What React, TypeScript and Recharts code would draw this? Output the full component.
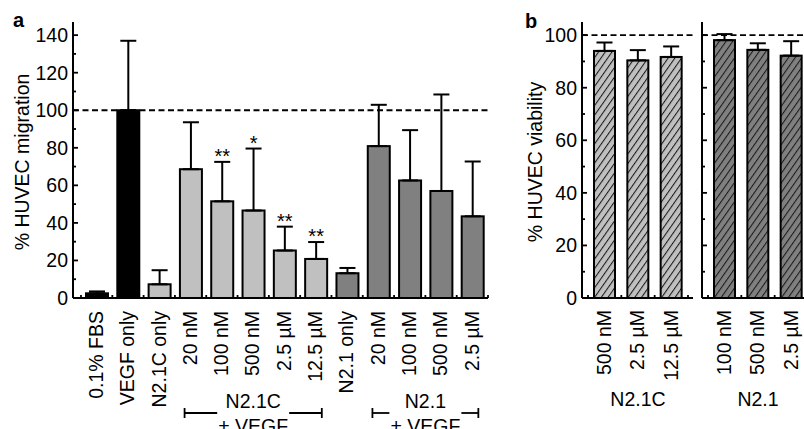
import React from 'react';
import { BarChart, Bar, XAxis, YAxis, ErrorBar, ReferenceLine } from 'recharts';

// panel a: HUVEC migration
const migrationKeys = ['fbs', 'vegf', 'cOnly', 'c20', 'c100', 'c500', 'c2500', 'c12500', 'nOnly', 'n20', 'n100', 'n500', 'n2500'];
const migrationLabels = ['0.1% FBS', 'VEGF only', 'N2.1C only', '20 nM', '100 nM', '500 nM', '2.5 µM', '12.5 µM', 'N2.1 only', '20 nM', '100 nM', '500 nM', '2.5 µM'];
const migrationValues = [2.5, 100, 7.3, 68.6, 51.5, 46.6, 25.3, 20.8, 13.2, 80.9, 62.6, 57, 43.5];
const migrationErrors = [1, 37, 7.5, 25, 21, 33, 12.7, 9, 2.8, 22, 26.8, 51.4, 29.2];
const migrationStars = ['', '', '', '', '**', '*', '**', '**', '', '', '', '', ''];
const migrationGroups = ['ctrl', 'ctrl', 'c', 'c', 'c', 'c', 'c', 'c', 'n', 'n', 'n', 'n', 'n'];
const migrationTicks = [0, 10, 20, 30, 40, 50, 60, 70, 80, 90, 100, 110, 120, 130, 140];
const brackets = [
  { from: 3, to: 7, title: 'N2.1C', sub: '+ VEGF' },
  { from: 9, to: 12, title: 'N2.1', sub: '+ VEGF' },
];

// panel b: HUVEC viability
const viabilityCLabels = ['500 nM', '2.5 µM', '12.5 µM'];
const viabilityCValues = [94, 90.4, 91.7];
const viabilityCErrors = [3.2, 3.9, 4];
const viabilityNLabels = ['100 nM', '500 nM', '2.5 µM'];
const viabilityNValues = [98.1, 94.4, 92.2];
const viabilityNErrors = [2.3, 2.5, 5.5];
const viabilityTicks = [0, 10, 20, 30, 40, 50, 60, 70, 80, 90, 100];

const FONT = '"Liberation Sans", Arial, sans-serif';
const FILLS: Record<string, string> = { ctrl: '#000000', c: '#c0c0c0', n: '#808080' };

const migrationData = migrationKeys.map((key, i) => ({
  key,
  label: migrationLabels[i],
  value: migrationValues[i],
  err: [0, migrationErrors[i]],
  errValue: migrationErrors[i],
  stars: migrationStars[i],
  group: migrationGroups[i],
}));

const makeViability = (labels: string[], values: number[], errors: number[]) =>
  labels.map((label, i) => ({ key: `${label}-${i}`, label, value: values[i], err: [0, errors[i]], errValue: errors[i] }));

const viabilityCData = makeViability(viabilityCLabels, viabilityCValues, viabilityCErrors);
const viabilityNData = makeViability(viabilityNLabels, viabilityNValues, viabilityNErrors);

// layout of panel a
const A_WIDTH = 500;
const A_LEFT = 73;
const A_RIGHT = 12;
const A_PAD = 8;
const A_BAND = (A_WIDTH - A_LEFT - A_RIGHT - A_PAD) / migrationData.length;

// layout of panel b
const B_WIDTH = 200;
const B_LEFT = 82;
const B_RIGHT = 7;
const B_PAD_L = 6;
const B_PAD_R = 5;
const B_BAND = (B_WIDTH - B_LEFT - B_RIGHT - B_PAD_L - B_PAD_R) / 3;

const LINE = 1.8;

const YTick = ({ x, y, payload, showLabel, step }: any) => {
  const major = payload.value % step === 0;
  return (
    <g>
      <line x1={x} x2={x + (major ? 5 : 3)} y1={y} y2={y} stroke="#000" strokeWidth={LINE} />
      {showLabel && major && (
        <text x={x - 5} y={y} dy="0.35em" textAnchor="end" fontSize={19.5} fontFamily={FONT} fill="#000">
          {payload.value}
        </text>
      )}
    </g>
  );
};

const MigrationTick = ({ x, y, index }: any) => {
  const last = index === migrationData.length - 1;
  const bracket = brackets.find((b) => b.from === index);
  return (
    <g>
      <line x1={x - A_BAND / 2} x2={x - A_BAND / 2} y1={y} y2={y - 3} stroke="#000" strokeWidth={LINE} />
      {last && <line x1={x + A_BAND / 2} x2={x + A_BAND / 2} y1={y} y2={y - 3} stroke="#000" strokeWidth={LINE} />}
      <text
        transform={`translate(${x},${y + 13}) rotate(-90)`}
        dy="0.32em"
        textAnchor="end"
        fontSize={19.5}
        fontFamily={FONT}
        fill="#000"
      >
        {migrationData[index]?.label}
      </text>
      {bracket && (() => {
        const x0 = x - 6;
        const x1 = x + (bracket.to - bracket.from) * A_BAND + 6;
        const cx = (x0 + x1) / 2;
        const ly = y + 115;
        return (
          <g>
            <text x={cx} y={y + 110} textAnchor="middle" fontSize={19.5} fontFamily={FONT} fill="#000">{bracket.title}</text>
            <text x={cx} y={y + 135} textAnchor="middle" fontSize={19.5} fontFamily={FONT} fill="#000">{bracket.sub}</text>
            <line x1={x0} x2={cx - 36} y1={ly} y2={ly} stroke="#000" strokeWidth={LINE} />
            <line x1={cx + 36} x2={x1} y1={ly} y2={ly} stroke="#000" strokeWidth={LINE} />
            <line x1={x0} x2={x0} y1={ly - 5} y2={ly + 5} stroke="#000" strokeWidth={LINE} />
            <line x1={x1} x2={x1} y1={ly - 5} y2={ly + 5} stroke="#000" strokeWidth={LINE} />
          </g>
        );
      })()}
    </g>
  );
};

const viabilityTick = (data: any[], group: string) => ({ x, y, index }: any) => {
  const last = index === data.length - 1;
  return (
    <g>
      <line x1={x - B_BAND / 2} x2={x - B_BAND / 2} y1={y} y2={y - 3} stroke="#000" strokeWidth={LINE} />
      {last && <line x1={x + B_BAND / 2} x2={x + B_BAND / 2} y1={y} y2={y - 3} stroke="#000" strokeWidth={LINE} />}
      <text
        transform={`translate(${x},${y + 12}) rotate(-90)`}
        dy="0.32em"
        textAnchor="end"
        fontSize={19.5}
        fontFamily={FONT}
        fill="#000"
      >
        {data[index]?.label}
      </text>
      {index === 1 && (
        <text x={x} y={y + 108} textAnchor="middle" fontSize={19.5} fontFamily={FONT} fill="#000">{group}</text>
      )}
    </g>
  );
};

const MigrationBar = (props: any) => {
  const { x, y, width, height, payload } = props;
  const perUnit = payload.value > 0 ? height / payload.value : 0;
  const errTop = y - payload.errValue * perUnit;
  return (
    <g>
      <rect x={x} y={y} width={width} height={height} fill={FILLS[payload.group]} stroke="#000" strokeWidth={2} />
      {payload.stars && (
        <text x={x + width / 2} y={errTop + 1} textAnchor="middle" fontSize={20} fontFamily={FONT} fill="#000">
          {payload.stars}
        </text>
      )}
    </g>
  );
};

const hatchBar = (patternId: string) => (props: any) => {
  const { x, y, width, height } = props;
  return <rect x={x} y={y} width={width} height={height} fill={`url(#${patternId})`} stroke="#000" strokeWidth={2} />;
};

const HatchDefs = ({ id, color }: { id: string; color: string }) => (
  <defs>
    <pattern id={id} patternUnits="userSpaceOnUse" width={5.5} height={6} patternTransform="rotate(35)">
      <rect width={5.5} height={6} fill={color} />
      <line x1={0.5} y1={0} x2={0.5} y2={6} stroke="#1a1a1a" strokeWidth={1.1} />
    </pattern>
  </defs>
);

const ViabilityPanel = ({ data, group, patternId, color, showLabels }: any) => (
  <BarChart width={B_WIDTH} height={429} data={data} margin={{ top: 22, right: B_RIGHT, bottom: 0, left: 0 }}>
    <HatchDefs id={patternId} color={color} />
    <XAxis
      dataKey="key"
      height={131}
      interval={0}
      tickSize={0}
      tickMargin={0}
      tickLine={false}
      padding={{ left: B_PAD_L, right: B_PAD_R }}
      axisLine={{ stroke: '#000', strokeWidth: 2 }}
      tick={viabilityTick(data, group)}
    />
    <YAxis
      width={B_LEFT}
      domain={[0, 105]}
      ticks={viabilityTicks}
      interval={0}
      tickSize={0}
      tickMargin={0}
      tickLine={false}
      axisLine={{ stroke: '#000', strokeWidth: 2 }}
      tick={<YTick showLabel={showLabels} step={20} />}
    />
    <ReferenceLine y={100} stroke="#000" strokeWidth={1.8} strokeDasharray="6 3.5" />
    <Bar dataKey="value" barSize={21} shape={hatchBar(patternId)} isAnimationActive={false}>
      <ErrorBar dataKey="err" width={8} stroke="#000" strokeWidth={2} isAnimationActive={false} />
    </Bar>
  </BarChart>
);

export default function App() {
  return (
    <div style={{ position: 'absolute', left: 0, top: 0, width: 804, height: 429, overflow: 'hidden', background: '#fff', fontFamily: FONT }}>
      <div style={{ position: 'absolute', left: 0, top: 0 }}>
        <BarChart width={A_WIDTH} height={429} data={migrationData} margin={{ top: 22, right: A_RIGHT, bottom: 0, left: 0 }}>
          <XAxis
            dataKey="key"
            height={131}
            interval={0}
            tickSize={0}
            tickMargin={0}
            tickLine={false}
            padding={{ left: A_PAD, right: 0 }}
            axisLine={{ stroke: '#000', strokeWidth: 2 }}
            tick={<MigrationTick />}
          />
          <YAxis
            width={A_LEFT}
            domain={[0, 147]}
            ticks={migrationTicks}
            interval={0}
            tickSize={0}
            tickMargin={0}
            tickLine={false}
            axisLine={{ stroke: '#000', strokeWidth: 2 }}
            tick={<YTick showLabel step={20} />}
          />
          <ReferenceLine y={100} stroke="#000" strokeWidth={1.8} strokeDasharray="6 3.5" />
          <Bar dataKey="value" barSize={22} shape={MigrationBar} isAnimationActive={false}>
            <ErrorBar dataKey="err" width={8} stroke="#000" strokeWidth={2} isAnimationActive={false} />
          </Bar>
        </BarChart>
      </div>
      <div style={{ position: 'absolute', left: 500, top: 0 }}>
        <ViabilityPanel data={viabilityCData} group="N2.1C" patternId="hatchLight" color="#c0c0c0" showLabels />
      </div>
      <div style={{ position: 'absolute', left: 620, top: 0 }}>
        <ViabilityPanel data={viabilityNData} group="N2.1" patternId="hatchDark" color="#808080" showLabels={false} />
      </div>
      <svg width={804} height={429} style={{ position: 'absolute', left: 0, top: 0, pointerEvents: 'none' }}>
        <text x={13} y={27} fontSize={20} fontWeight="bold" fontFamily={FONT}>a</text>
        <text x={525} y={28} fontSize={20} fontWeight="bold" fontFamily={FONT}>b</text>
        <text transform="translate(29,162) rotate(-90)" textAnchor="middle" fontSize={19.5} fontFamily={FONT}>% HUVEC migration</text>
        <text transform="translate(542,162) rotate(-90)" textAnchor="middle" fontSize={19.5} fontFamily={FONT}>% HUVEC viability</text>
      </svg>
    </div>
  );
}
